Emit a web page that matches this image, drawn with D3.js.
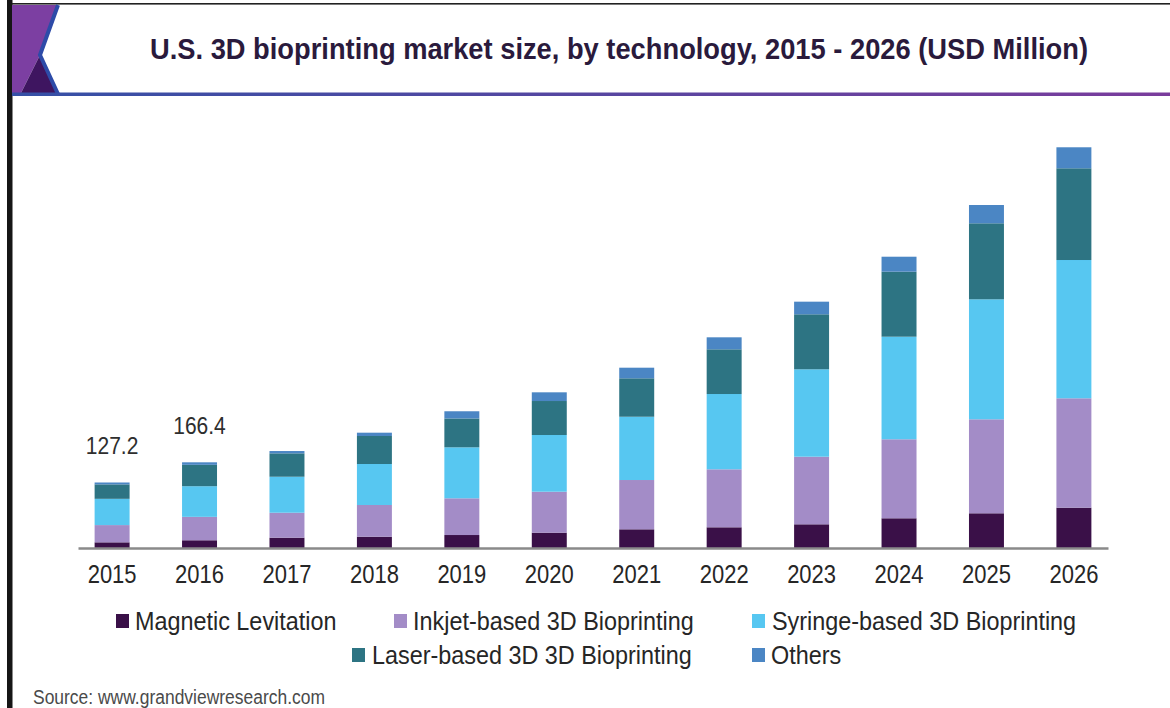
<!DOCTYPE html>
<html>
<head>
<meta charset="utf-8">
<script src="https://cdn.jsdelivr.net/npm/d3@7"></script>
<style>
  html, body { margin: 0; padding: 0; background: #ffffff; }
  svg { display: block; font-family: "Liberation Sans", Arial, sans-serif; }
</style>
</head>
<body>
<svg id="chart" width="1170" height="708"></svg>
<script>
// Years on the x axis
const years = ["2015", "2016", "2017", "2018", "2019", "2020", "2021", "2022", "2023", "2024", "2025", "2026"];

// Market size by technology (USD Million)
const magneticLevitation = [11.0, 15.0, 20.0, 21.9, 25.2, 29.7, 36.3, 40.2, 46.0, 57.7, 67.4, 78.3];
const inkjetBased = [33.5, 45.5, 48.5, 61.6, 71.3, 79.6, 95.7, 112.6, 131.3, 153.4, 182.5, 212.4];
const syringeBased = [51.0, 59.5, 69.9, 79.6, 99.0, 110.1, 122.9, 146.2, 169.7, 199.2, 233.0, 268.5];
const laserBased = [28.0, 41.5, 45.4, 54.4, 56.0, 66.0, 74.6, 86.8, 106.8, 126.2, 147.6, 178.1];
const others = [3.7, 4.9, 4.5, 6.4, 14.0, 16.9, 20.6, 23.3, 24.5, 29.1, 35.5, 40.8];

// Series names and legend labels
const seriesKeys = ["magnetic", "inkjet", "syringe", "laser", "others"];
const seriesLabels = ["Magnetic Levitation", "Inkjet-based 3D Bioprinting", "Syringe-based 3D Bioprinting", "Laser-based 3D 3D Bioprinting", "Others"];
const seriesColors = ["#3a1048", "#a38cc7", "#57c7f1", "#2d7483", "#4b86c4"];

// Totals printed above the first two bars
const totalLabels = [{ year: "2015", text: "127.2" }, { year: "2016", text: "166.4" }];

const rows = years.map((y, i) => ({
  year: y,
  magnetic: magneticLevitation[i],
  inkjet: inkjetBased[i],
  syringe: syringeBased[i],
  laser: laserBased[i],
  others: others[i]
}));

const svg = d3.select("#chart");

// Text drawn slightly taller than wide, anchored at its baseline point
function tallText(parent, px, py, sy) {
  return parent.append("text")
    .attr("transform", `translate(${px},${py}) scale(1,${sy})`)
    .attr("x", 0).attr("y", 0);
}

// ---- Frame and header band ----
svg.append("rect").attr("x", 7).attr("y", 0).attr("width", 5.5).attr("height", 708).attr("fill", "#161616");
svg.append("rect").attr("x", 12).attr("y", 3).attr("width", 1158).attr("height", 1.6).attr("fill", "#222");

const defs = svg.append("defs");
const grad = defs.append("linearGradient").attr("id", "headerLine").attr("x1", "0%").attr("x2", "100%");
grad.append("stop").attr("offset", "0%").attr("stop-color", "#3550a6");
grad.append("stop").attr("offset", "55%").attr("stop-color", "#5a45a0");
grad.append("stop").attr("offset", "100%").attr("stop-color", "#7a3c9c");

svg.append("path")
  .attr("d", "M12,5 L58,5 L40,55 L20,95 L12,95 Z")
  .attr("fill", "#7c3fa2");
svg.append("path")
  .attr("d", "M20,95 L40,55 L58,95 Z")
  .attr("fill", "#3e1560");
svg.append("path")
  .attr("d", "M58,5 L40,55 L58,94")
  .attr("fill", "none")
  .attr("stroke", "#2d4ba8")
  .attr("stroke-width", 4);
svg.append("rect").attr("x", 12).attr("y", 92.5).attr("width", 1158).attr("height", 3.5).attr("fill", "url(#headerLine)");

tallText(svg, 150, 59, 1.12)
  .attr("font-size", 27).attr("font-weight", "bold")
  .attr("fill", "#2a1a3c")
  .attr("textLength", 938).attr("lengthAdjust", "spacingAndGlyphs")
  .text("U.S. 3D bioprinting market size, by technology, 2015 - 2026 (USD Million)");

// ---- Scales ----
const x = d3.scaleBand()
  .domain(years)
  .range([78, 1108])
  .paddingInner(0.6)
  .paddingOuter(0.19);

const y = d3.scaleLinear()
  .domain([0, 800])
  .range([548, 136]);

const stack = d3.stack().keys(seriesKeys);
const stacked = stack(rows);

// ---- Bars ----
svg.append("g")
  .selectAll("g")
  .data(stacked)
  .join("g")
  .attr("fill", (d, i) => seriesColors[i])
  .selectAll("rect")
  .data(d => d)
  .join("rect")
  .attr("x", d => x(d.data.year))
  .attr("width", x.bandwidth())
  .attr("y", d => y(d[1]))
  .attr("height", d => y(d[0]) - y(d[1]));

// ---- X axis ----
const xAxis = svg.append("g")
  .attr("transform", "translate(0,548)")
  .call(d3.axisBottom(x).tickSize(0).tickPadding(0));
xAxis.select(".domain").attr("stroke", "#8a8a8a").attr("stroke-width", 2.5);
xAxis.selectAll(".tick text")
  .attr("dy", null)
  .attr("y", 0)
  .attr("transform", "translate(0,35) scale(1,1.15)")
  .attr("font-family", "Liberation Sans, Arial, sans-serif")
  .attr("font-size", 22)
  .attr("fill", "#262626");

// ---- Totals above bars ----
const totalOf = yr => {
  const i = years.indexOf(yr);
  return magneticLevitation[i] + inkjetBased[i] + syringeBased[i] + laserBased[i] + others[i];
};
const totalsG = svg.append("g");
totalLabels.forEach(d => {
  tallText(totalsG, x(d.year) + x.bandwidth() / 2, y(totalOf(d.year)) - 28, 1.1)
    .attr("text-anchor", "middle")
    .attr("font-size", 21)
    .attr("fill", "#2e2e2e")
    .text(d.text);
});

// ---- Legend ----
const legendSpots = [
  { sx: 116, tx: 135, row: 0 },
  { sx: 394, tx: 413, row: 0 },
  { sx: 752, tx: 772, row: 0 },
  { sx: 352, tx: 372, row: 1 },
  { sx: 752, tx: 771, row: 1 }
];
const legend = svg.append("g");
seriesLabels.forEach((label, i) => {
  const s = legendSpots[i];
  const cy = 621 + s.row * 34;
  legend.append("rect")
    .attr("x", s.sx).attr("y", cy - 7)
    .attr("width", 13).attr("height", 14)
    .attr("fill", seriesColors[i]);
  tallText(legend, s.tx, cy + 9, 1.1)
    .attr("font-size", 23.4)
    .attr("fill", "#262626")
    .text(label);
});

// ---- Source note ----
tallText(svg, 33, 704, 1.2)
  .attr("font-size", 17.5)
  .attr("fill", "#4a4a4a")
  .attr("textLength", 292).attr("lengthAdjust", "spacingAndGlyphs")
  .text("Source: www.grandviewresearch.com");
</script>
</body>
</html>
